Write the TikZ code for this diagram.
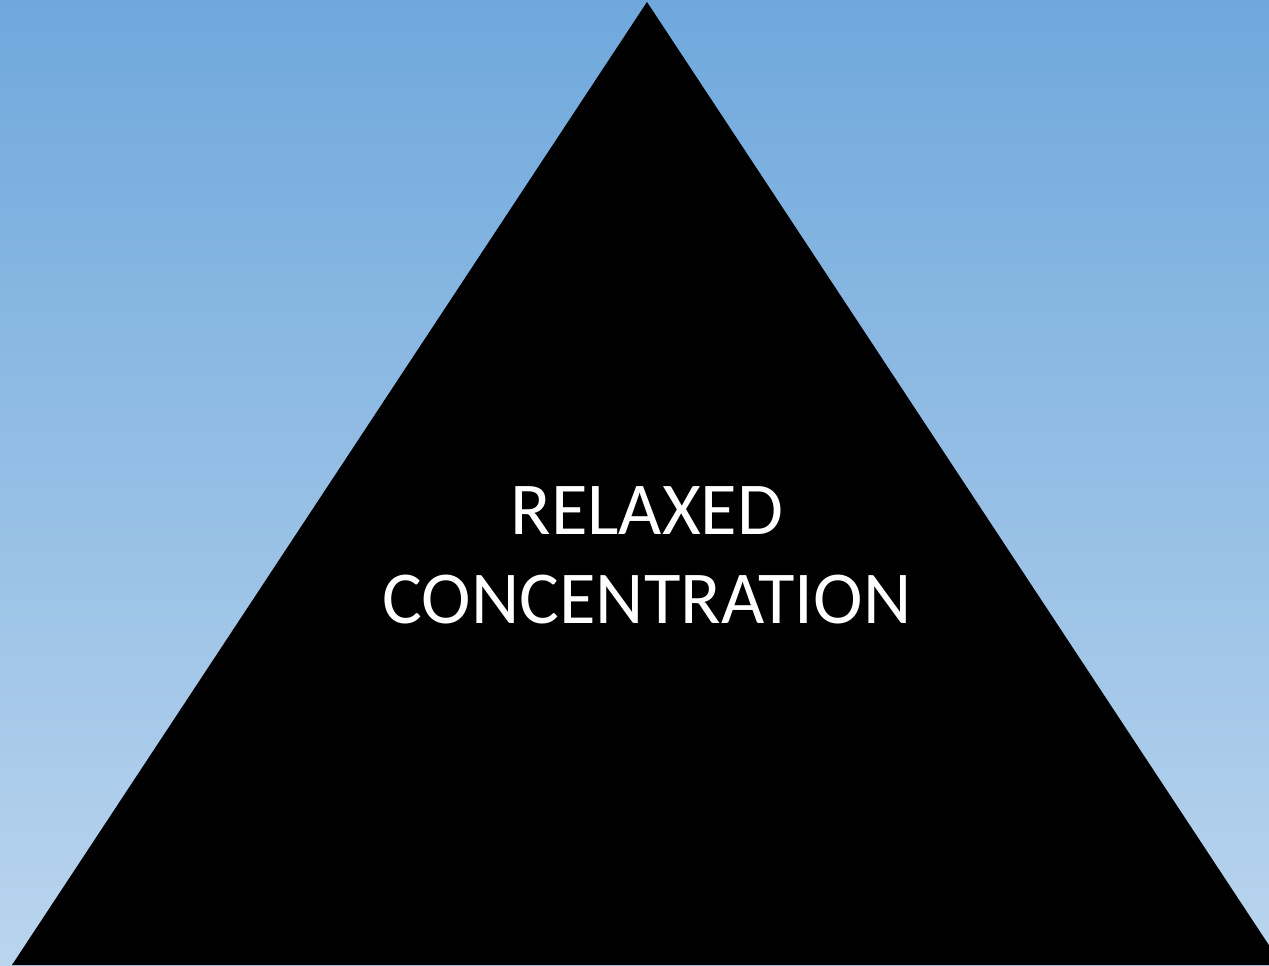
\documentclass[tikz,border=0pt]{standalone}
\usepackage{fontspec}
\setmainfont{Carlito}
\usetikzlibrary{positioning}
\definecolor{skytop}{HTML}{6FA8DC}
\definecolor{skybottom}{HTML}{BAD5EE}

\begin{document}
\begin{tikzpicture}[x=0.02cm, y=-0.02cm]
% background
\shade[top color=skytop, bottom color=skybottom] (0,0) rectangle (1269,966);
\useasboundingbox (0,0) rectangle (1269,966);
% pyramid
\coordinate (apex) at (647,2);
\coordinate (left) at (12,965);
\coordinate (right) at (1282,965);
\begin{scope}
\clip (0,0) rectangle (1269,966);
\fill[black] (apex) -- (left) -- (right) -- cycle;
\end{scope}
\node[text=white, align=center, font=\fontsize{42.5}{50.5}\selectfont] (label) at (647,555) {RELAXED\\CONCENTRATION};
\end{tikzpicture}
\end{document}
